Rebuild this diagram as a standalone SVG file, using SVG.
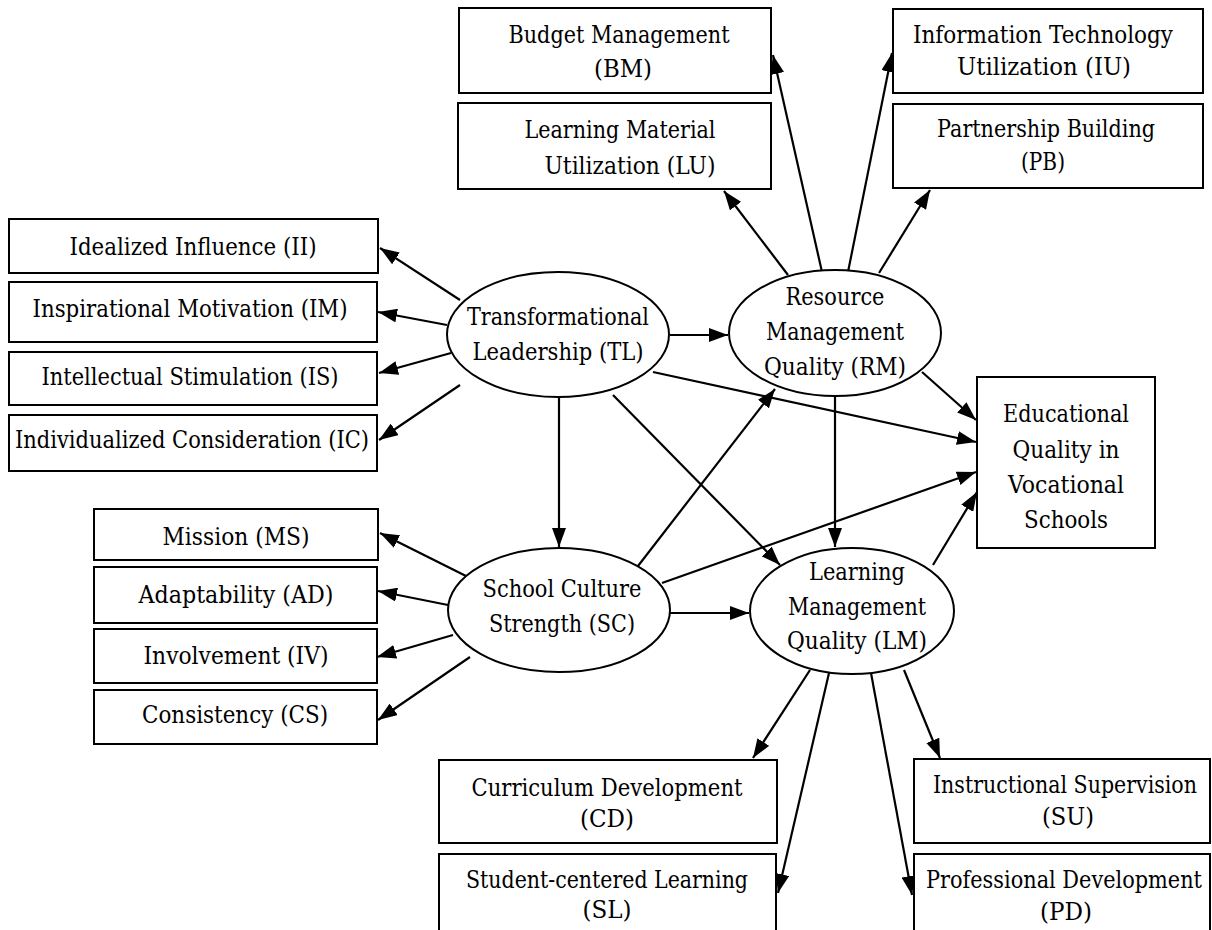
<svg xmlns="http://www.w3.org/2000/svg" width="1212" height="930" viewBox="0 0 1212 930">
<style>
.box{fill:#fff;stroke:#000;stroke-width:2}
.ell{fill:#fff;stroke:#000;stroke-width:2}
.t text{font-family:'DejaVu Serif','Liberation Serif',serif;font-size:24px;fill:#000;text-anchor:middle}
.c line{stroke:#000;stroke-width:2.2;marker-end:url(#ah)}
</style>
<defs>
<marker id="ah" markerUnits="userSpaceOnUse" markerWidth="20" markerHeight="14" refX="19" refY="7" orient="auto">
<path d="M0,0 L19,7 L0,14 z" fill="#000"/>
</marker>
</defs>
<rect width="1212" height="930" fill="#fff"/>

<g class="c" id="connectors">
<line x1="460" y1="300" x2="380" y2="248"/>
<line x1="447" y1="325" x2="378" y2="312"/>
<line x1="451" y1="353" x2="379" y2="373"/>
<line x1="460" y1="385" x2="379" y2="440"/>
<line x1="468" y1="577" x2="380" y2="533"/>
<line x1="448" y1="605" x2="378" y2="591"/>
<line x1="453" y1="635" x2="377" y2="657"/>
<line x1="470" y1="657" x2="378" y2="720"/>
<line x1="670" y1="335" x2="728" y2="335"/>
<line x1="559" y1="398" x2="559" y2="547"/>
<line x1="613" y1="395" x2="780" y2="565"/>
<line x1="653" y1="372" x2="976" y2="442"/>
<line x1="638" y1="566" x2="775" y2="389"/>
<line x1="835" y1="396" x2="835" y2="547"/>
<line x1="662" y1="583" x2="976" y2="472"/>
<line x1="670" y1="613" x2="749" y2="613"/>
<line x1="922" y1="372" x2="976" y2="420"/>
<line x1="933" y1="565" x2="977" y2="492"/>
<line x1="822" y1="272" x2="773" y2="55"/>
<line x1="788" y1="275" x2="724" y2="191"/>
<line x1="848" y1="272" x2="892" y2="53"/>
<line x1="879" y1="273" x2="930" y2="190"/>
<line x1="810" y1="670" x2="753" y2="758"/>
<line x1="829" y1="673" x2="778" y2="893"/>
<line x1="871" y1="673" x2="912" y2="895"/>
<line x1="904" y1="670" x2="940" y2="758"/>
</g>

<g class="t">
<g id="BM"><rect class="box" x="459" y="8" width="312" height="85"/><text x="619" y="43" textLength="221" lengthAdjust="spacingAndGlyphs">Budget Management</text><text x="623" y="77" textLength="58" lengthAdjust="spacingAndGlyphs">(BM)</text></g>
<g id="LU"><rect class="box" x="458" y="103" width="313" height="86"/><text x="620" y="138" textLength="191" lengthAdjust="spacingAndGlyphs">Learning Material</text><text x="630" y="174" textLength="171" lengthAdjust="spacingAndGlyphs">Utilization (LU)</text></g>
<g id="IU"><rect class="box" x="893" y="9" width="310" height="84"/><text x="1043" y="43" textLength="260" lengthAdjust="spacingAndGlyphs">Information Technology</text><text x="1044" y="75" textLength="174" lengthAdjust="spacingAndGlyphs">Utilization (IU)</text></g>
<g id="PB"><rect class="box" x="893" y="104" width="310" height="84"/><text x="1046" y="137" textLength="218" lengthAdjust="spacingAndGlyphs">Partnership Building</text><text x="1043" y="170" textLength="44" lengthAdjust="spacingAndGlyphs">(PB)</text></g>

<g id="II"><rect class="box" x="9" y="219" width="369" height="54"/><text x="193" y="255" textLength="247" lengthAdjust="spacingAndGlyphs">Idealized Influence (II)</text></g>
<g id="IM"><rect class="box" x="9" y="282" width="368" height="60"/><text x="190" y="317" textLength="315" lengthAdjust="spacingAndGlyphs">Inspirational Motivation (IM)</text></g>
<g id="IS"><rect class="box" x="9" y="352" width="368" height="53"/><text x="190" y="385" textLength="297" lengthAdjust="spacingAndGlyphs">Intellectual Stimulation (IS)</text></g>
<g id="IC"><rect class="box" x="9" y="415" width="368" height="56"/><text x="192" y="448" textLength="354" lengthAdjust="spacingAndGlyphs">Individualized Consideration (IC)</text></g>

<g id="MS"><rect class="box" x="94" y="509" width="284" height="51"/><text x="236" y="545" textLength="147" lengthAdjust="spacingAndGlyphs">Mission (MS)</text></g>
<g id="AD"><rect class="box" x="94" y="567" width="283" height="56"/><text x="236" y="603" textLength="195" lengthAdjust="spacingAndGlyphs">Adaptability (AD)</text></g>
<g id="IV"><rect class="box" x="94" y="629" width="283" height="54"/><text x="236" y="664" textLength="185" lengthAdjust="spacingAndGlyphs">Involvement (IV)</text></g>
<g id="CS"><rect class="box" x="94" y="690" width="283" height="54"/><text x="235" y="723" textLength="186" lengthAdjust="spacingAndGlyphs">Consistency (CS)</text></g>

<g id="TL"><ellipse class="ell" cx="558" cy="334.5" rx="111" ry="62.5"/><text x="558" y="325" textLength="182" lengthAdjust="spacingAndGlyphs">Transformational</text><text x="558" y="360" textLength="171" lengthAdjust="spacingAndGlyphs">Leadership (TL)</text></g>
<g id="RM"><ellipse class="ell" cx="835" cy="333" rx="106" ry="63"/><text x="835" y="305" textLength="99" lengthAdjust="spacingAndGlyphs">Resource</text><text x="835" y="340" textLength="138" lengthAdjust="spacingAndGlyphs">Management</text><text x="835" y="375" textLength="142" lengthAdjust="spacingAndGlyphs">Quality (RM)</text></g>
<g id="SC"><ellipse class="ell" cx="559" cy="610" rx="111" ry="62"/><text x="562" y="597" textLength="159" lengthAdjust="spacingAndGlyphs">School Culture</text><text x="562" y="632" textLength="146" lengthAdjust="spacingAndGlyphs">Strength (SC)</text></g>
<g id="LM"><ellipse class="ell" cx="852" cy="611" rx="102" ry="63"/><text x="857" y="580" textLength="96" lengthAdjust="spacingAndGlyphs">Learning</text><text x="857" y="615" textLength="138" lengthAdjust="spacingAndGlyphs">Management</text><text x="857" y="649" textLength="140" lengthAdjust="spacingAndGlyphs">Quality (LM)</text></g>

<g id="EQ"><rect class="box" x="977" y="377" width="178" height="171"/><text x="1066" y="422" textLength="126" lengthAdjust="spacingAndGlyphs">Educational</text><text x="1066" y="458" textLength="107" lengthAdjust="spacingAndGlyphs">Quality in</text><text x="1066" y="493" textLength="116" lengthAdjust="spacingAndGlyphs">Vocational</text><text x="1066" y="528" textLength="84" lengthAdjust="spacingAndGlyphs">Schools</text></g>

<g id="CD"><rect class="box" x="439" y="760" width="338" height="83"/><text x="607" y="796" textLength="271" lengthAdjust="spacingAndGlyphs">Curriculum Development</text><text x="607" y="827" textLength="54" lengthAdjust="spacingAndGlyphs">(CD)</text></g>
<g id="SL"><rect class="box" x="439" y="854" width="337" height="90"/><text x="607" y="888" textLength="282" lengthAdjust="spacingAndGlyphs">Student-centered Learning</text><text x="607" y="918" textLength="49" lengthAdjust="spacingAndGlyphs">(SL)</text></g>
<g id="SU"><rect class="box" x="914" y="759" width="296" height="84"/><text x="1065" y="793" textLength="264" lengthAdjust="spacingAndGlyphs">Instructional Supervision</text><text x="1068" y="825" textLength="52" lengthAdjust="spacingAndGlyphs">(SU)</text></g>
<g id="PD"><rect class="box" x="914" y="854" width="296" height="90"/><text x="1064" y="888" textLength="276" lengthAdjust="spacingAndGlyphs">Professional Development</text><text x="1066" y="920" textLength="52" lengthAdjust="spacingAndGlyphs">(PD)</text></g>
</g>
</svg>
